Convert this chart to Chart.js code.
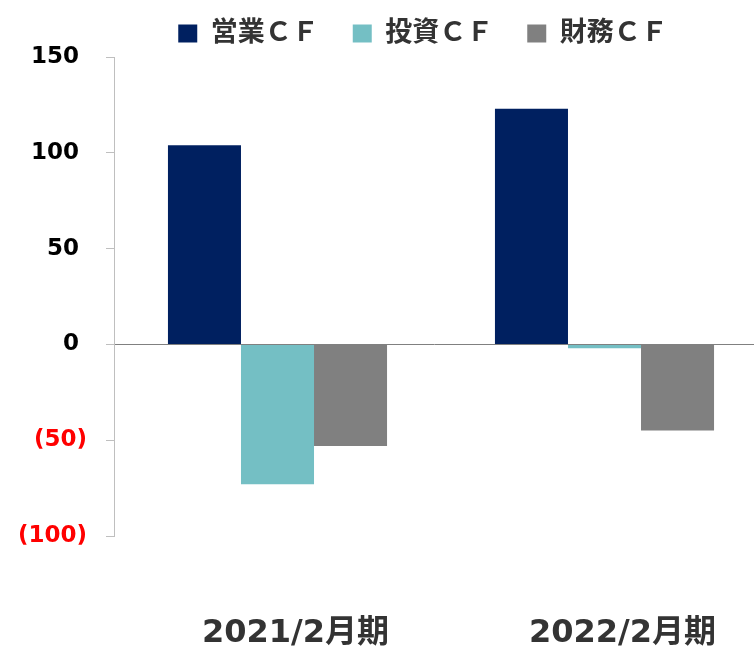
<!DOCTYPE html>
<html>
<head>
<meta charset="utf-8">
<script src="https://cdn.jsdelivr.net/npm/chart.js@4"></script>
<style>
  html, body { margin: 0; padding: 0; background: #fff; overflow: hidden; }
  #wrap { position: absolute; left: 0; top: 0; width: 754px; height: 650px; }
</style>
</head>
<body>
<div id="wrap"><canvas id="cfChart"></canvas></div>
<script>
// 期ごとのキャッシュフロー（億円）
const kikan = ['2021/2月期', '2022/2月期'];
const eigyoCF = [104, 123];
const toshiCF = [-73, -2];
const zaimuCF = [-53, -45];
const yTicks = [150, 100, 50, 0, -50, -100];

const fontJP = '"DejaVu Sans", "Noto Sans CJK JP", sans-serif';

// 凡例を右へずらし、横軸は右端の外まで伸ばす（元の図に合わせる）
const layoutTweak = {
  id: 'layoutTweak',
  afterLayout(chart) {
    chart.legend.left += 46;
    chart.legend.right += 46;
    const x = chart.scales.x;
    x.right += 14;
    x.width += 14;
    x.configure();
  }
};

new Chart(document.getElementById('cfChart'), {
  type: 'bar',
  data: {
    labels: kikan,
    datasets: [
      { label: '営業ＣＦ', data: eigyoCF, backgroundColor: '#002060' },
      { label: '投資ＣＦ', data: toshiCF, backgroundColor: '#74bfc4' },
      { label: '財務ＣＦ', data: zaimuCF, backgroundColor: '#808080' }
    ]
  },
  options: {
    responsive: true,
    maintainAspectRatio: false,
    animation: false,
    layout: { padding: { top: -14, left: 0, right: 0, bottom: 0 } },
    datasets: {
      bar: { barPercentage: 1, categoryPercentage: 0.67, borderWidth: 0 }
    },
    plugins: {
      legend: {
        position: 'top',
        labels: {
          boxWidth: 19,
          boxHeight: 18,
          padding: 34,
          color: '#333',
          font: { family: fontJP, size: 27, weight: 'bold' }
        }
      },
      tooltip: { enabled: false }
    },
    scales: {
      x: {
        afterFit: s => {
          s.height = 114;
          s.paddingLeft = 0;
          s.paddingRight = 0;
        },
        grid: { display: false, drawTicks: false },
        border: { display: false },
        ticks: {
          padding: 82,
          labelOffset: 18,
          color: '#333',
          font: { family: fontJP, size: 32, weight: 'bold', lineHeight: 1 }
        }
      },
      y: {
        min: Math.min(...yTicks),
        max: Math.max(...yTicks),
        afterFit: s => { s.width = 114; },
        afterBuildTicks: s => { s.ticks = yTicks.map(v => ({ value: v })); },
        border: { color: '#bfbfbf', width: 1 },
        grid: {
          color: ctx => ctx.tick && ctx.tick.value === 0 ? '#808080' : 'transparent',
          tickColor: '#bfbfbf',
          tickLength: 8
        },
        ticks: {
          padding: 19,
          color: ctx => ctx.tick.value < 0 ? '#ff0000' : '#000',
          font: { family: fontJP, size: 23, weight: 'bold' },
          callback: v => v < 0 ? `(${-v})` : `${v} `
        }
      }
    }
  },
  plugins: [layoutTweak]
});
</script>
</body>
</html>
